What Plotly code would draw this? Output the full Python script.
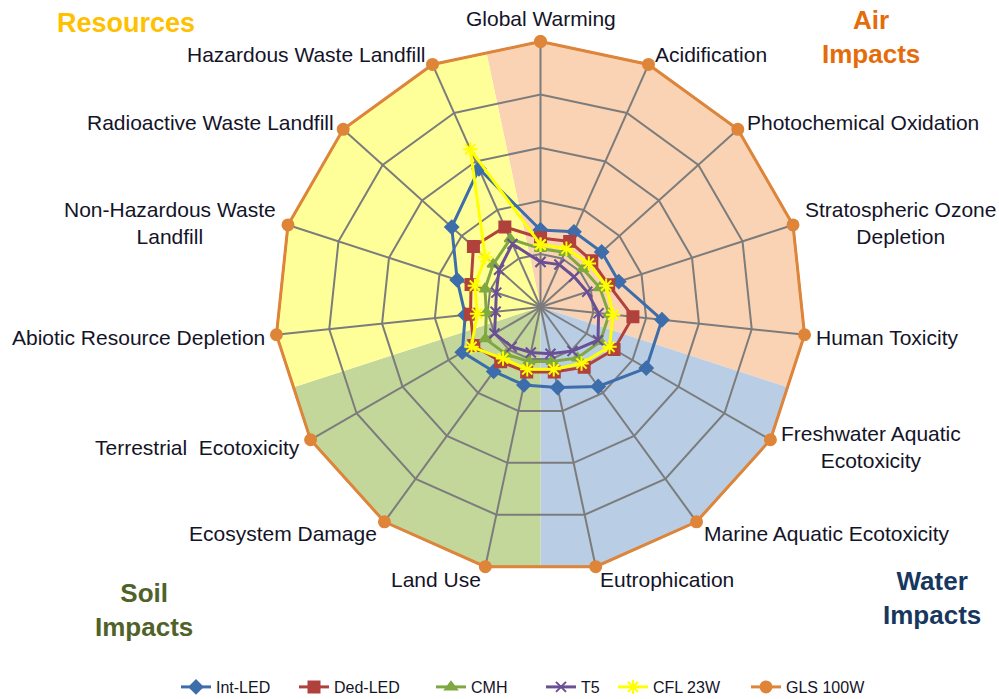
import math
import plotly.graph_objects as go

categories = [
    "Global Warming", "Acidification", "Photochemical Oxidation",
    "Stratospheric Ozone Depletion", "Human Toxicity",
    "Freshwater Aquatic Ecotoxicity", "Marine Aquatic Ecotoxicity",
    "Eutrophication", "Land Use", "Ecosystem Damage",
    "Terrestrial Ecotoxicity", "Abiotic Resource Depletion",
    "Non-Hazardous Waste Landfill", "Radioactive Waste Landfill",
    "Hazardous Waste Landfill",
]
label_texts = [
    "Global Warming", "Acidification", "Photochemical Oxidation",
    "Stratospheric Ozone<br>Depletion", "Human Toxicity",
    "Freshwater Aquatic<br>Ecotoxicity", "Marine Aquatic Ecotoxicity",
    "Eutrophication", "Land Use", "Ecosystem Damage",
    "Terrestrial  Ecotoxicity", "Abiotic Resource Depletion",
    "Non-Hazardous Waste<br>Landfill", "Radioactive Waste Landfill",
    "Hazardous Waste Landfill",
]

int_led = [0.29, 0.31, 0.31, 0.31, 0.46, 0.46, 0.37, 0.31, 0.30, 0.30, 0.34, 0.285, 0.33, 0.45, 0.57]
ded_led = [0.26, 0.27, 0.26, 0.27, 0.35, 0.32, 0.28, 0.25, 0.25, 0.255, 0.29, 0.265, 0.275, 0.34, 0.33]
cmh = [0.22, 0.225, 0.215, 0.235, 0.26, 0.26, 0.237, 0.21, 0.21, 0.22, 0.24, 0.205, 0.22, 0.24, 0.28]
t5 = [0.17, 0.175, 0.17, 0.185, 0.22, 0.25, 0.205, 0.18, 0.175, 0.185, 0.20, 0.17, 0.175, 0.21, 0.26]
cfl = [0.235, 0.24, 0.245, 0.26, 0.275, 0.30, 0.263, 0.24, 0.24, 0.24, 0.30, 0.24, 0.26, 0.28, 0.65]
gls = [1.0] * 15

series_names = ["Int-LED", "Ded-LED", "CMH", "T5", "CFL 23W", "GLS 100W"]
series_values = [int_led, ded_led, cmh, t5, cfl, gls]
series_colors = ["#3D6DAB", "#B0413C", "#80A840", "#6A4F94", "#FFFF00", "#DE853A"]
series_symbols = ["diamond", "square", "triangle-up", "x-thin-open", "asterisk-open", "circle"]
series_msizes = [10, 11, 10, 10, 12, 11]
legend_widths = [73, 92, 65, 27, 88, 80]

# impact groups: (label, first category index, last category index, colour)
groups = [
    ("Air", 0, 4, "#FAD3B4"),
    ("Water", 5, 7, "#B9CDE5"),
    ("Soil", 8, 10, "#C4D79B"),
    ("Resources", 11, 14, "#FFFF99"),
]

# group titles: (text, colour, font size, x px, y px)
group_titles = [
    ("Resources", "#FFC000", 27, 126, 23),
    ("Air<br>Impacts", "#E46C0A", 26, 871, 37),
    ("Soil<br>Impacts", "#4F6228", 26, 144, 610),
    ("Water<br>Impacts", "#17375E", 26, 932, 598),
]

W, H = 999, 699
n = len(categories)
step = 360.0 / n
edge_mid_r = math.cos(math.radians(step / 2))
RMAX = 1.012  # a little headroom so the outer series line is not clipped

fig = go.Figure()

# background impact sectors (polygon wedges) on the lower polar subplot
for name, s, e, col in groups:
    th = [0, s * step - step / 2] + [k * step for k in range(s, e + 1)] + [e * step + step / 2, 0]
    rr = [0, edge_mid_r] + [1.0] * (e - s + 1) + [edge_mid_r, 0]
    fig.add_trace(go.Scatterpolar(
        r=rr, theta=th, mode="lines", fill="toself", fillcolor=col,
        line=dict(width=0, color=col), showlegend=False, hoverinfo="skip",
        subplot="polar"))

for name, vals, col, sym, ms, lw in zip(series_names, series_values, series_colors,
                                        series_symbols, series_msizes, legend_widths):
    fig.add_trace(go.Scatterpolar(
        r=vals + [vals[0]], theta=categories + [categories[0]],
        mode="lines+markers", name=name, cliponaxis=False, legendwidth=lw,
        line=dict(color=col, width=3),
        marker=dict(symbol=sym, size=ms, color=col,
                    line=dict(color=col, width=2)),
        subplot="polar2"))

# polar geometry in pixels
R1 = 265.5               # pixel radius of value 1
pcx, pcy = 540.5, 307    # polygon centre
size = 2 * R1 * RMAX
dom_x = [(pcx - size / 2) / W, (pcx + size / 2) / W]
dom_y = [(H - pcy - size / 2) / H, (H - pcy + size / 2) / H]

grid_col = "#7C7C7C"
fig.update_layout(
    width=W, height=H,
    margin=dict(l=0, r=0, t=0, b=0, autoexpand=False),
    paper_bgcolor="white",
    font=dict(family="Liberation Sans, Arial, sans-serif", color="#141428"),
    polar=dict(
        domain=dict(x=dom_x, y=dom_y),
        bgcolor="rgba(0,0,0,0)",
        angularaxis=dict(thetaunit="degrees", rotation=90, direction="clockwise",
                         showgrid=False, showline=False, showticklabels=False,
                         ticks=""),
        radialaxis=dict(range=[0, RMAX], visible=False),
    ),
    polar2=dict(
        domain=dict(x=dom_x, y=dom_y),
        bgcolor="rgba(0,0,0,0)",
        gridshape="linear",
        angularaxis=dict(type="category", rotation=90, direction="clockwise",
                         categoryarray=categories, showticklabels=False,
                         showgrid=True, gridcolor=grid_col, gridwidth=1.5,
                         showline=False, ticks=""),
        radialaxis=dict(range=[0, RMAX], tick0=0, dtick=0.2, showticklabels=False,
                        ticks="", showline=False, gridcolor=grid_col,
                        gridwidth=1.5),
    ),
    legend=dict(orientation="h", x=176 / W, xanchor="left", y=(H - 687) / H,
                yanchor="middle", font=dict(size=16, color="#141428"),
                itemwidth=30, bgcolor="rgba(0,0,0,0)"),
)

# category labels placed just outside each vertex of the outer polygon
for k, txt in enumerate(label_texts):
    a = math.radians(k * step)
    sx, cs = math.sin(a), math.cos(a)
    vx = pcx + R1 * sx
    vy = pcy - R1 * cs
    if abs(sx) < 0.05:
        px, py, xa = vx, vy - 23, "center"
    else:
        px = vx + 10 * sx
        py = vy - 12 * cs + 1.5
        xa = "left" if sx > 0 else "right"
    fig.add_annotation(text=txt, x=px / W, y=1 - py / H, xref="paper", yref="paper",
                       showarrow=False, xanchor=xa, yanchor="middle", align="center",
                       font=dict(size=21, color="#141428"))

for txt, col, fs, tx, ty in group_titles:
    fig.add_annotation(text="<b>" + txt + "</b>", x=tx / W, y=1 - ty / H,
                       xref="paper", yref="paper",
                       showarrow=False, xanchor="center", yanchor="middle",
                       font=dict(size=fs, color=col,
                                 family="Liberation Sans, Arial, sans-serif"))

fig.write_html("out.html", config={"displayModeBar": False},
               post_script="document.body.style.margin='0';")
